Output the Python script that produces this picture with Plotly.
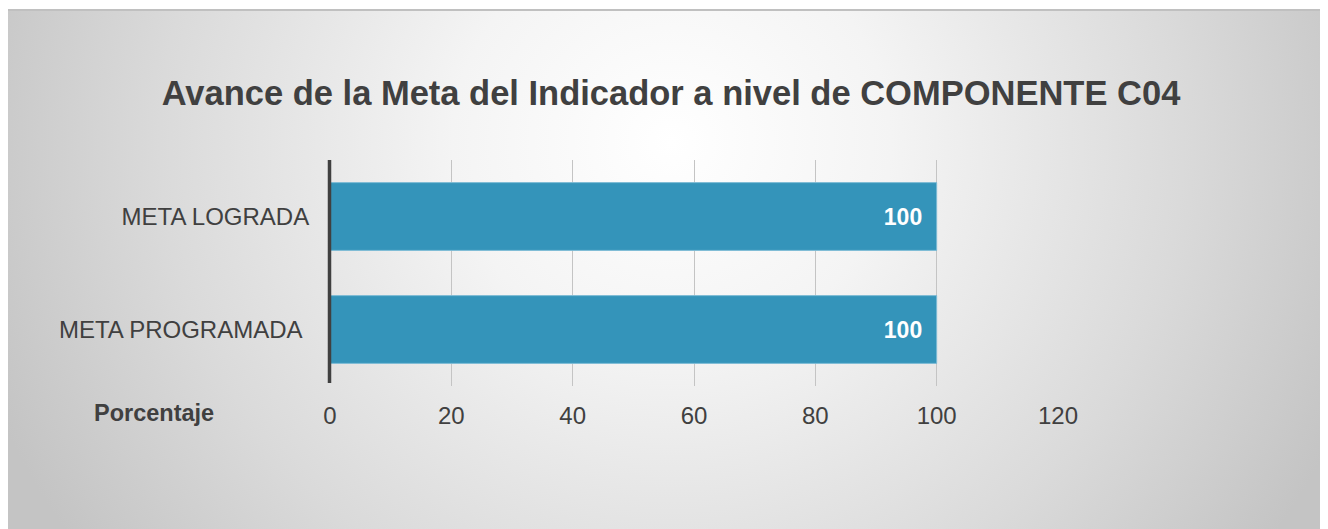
import base64
import plotly.graph_objects as go

categories = ["META PROGRAMADA\u00a0", "META LOGRADA"]
values = [100, 100]
x_ticks = [0, 20, 40, 60, 80, 100, 120]
title_text = "Avance de la Meta del Indicador a nivel de COMPONENTE C04"
axis_label = "Porcentaje"

W, H = 1328, 529
# plot area in figure pixels (page has an 8px body margin)
PL, PR, PT, PB = 322, 1050, 152, 378
PW, PH = PR - PL, PB - PT

svg = f'''<svg xmlns="http://www.w3.org/2000/svg" width="{W}" height="{H}" viewBox="0 0 {W} {H}" preserveAspectRatio="none">
<defs><radialGradient id="g" cx="0.5" cy="0.25" r="0.55" gradientTransform="translate(0.5,0.25) scale(1,2.4) translate(-0.5,-0.25)">
<stop offset="0" stop-color="#ffffff"/>
<stop offset="0.3" stop-color="#f4f4f4"/>
<stop offset="0.7" stop-color="#dadada"/>
<stop offset="1" stop-color="#c4c4c4"/>
</radialGradient></defs>
<rect x="0" y="0" width="{W}" height="{H}" fill="url(#g)"/>
</svg>'''
src = "data:image/svg+xml;base64," + base64.b64encode(svg.encode()).decode()

def px_x(p):
    return (p - PL) / PW

def px_y(p):
    return (PB - p) / PH

fig = go.Figure(go.Bar(
    x=values, y=categories, orientation="h",
    marker=dict(color="#3494ba", line=dict(color="#7fbcd6", width=1)),
    text=[f"{v}\u2002" for v in values], textposition="inside", insidetextanchor="end",
    textfont=dict(family="Liberation Sans, Arial", size=23, color="white", weight="bold"),
    width=0.6,
))

fig.update_layout(
    width=W, height=H,
    margin=dict(l=PL, r=W - PR, t=PT, b=H - PB),
    paper_bgcolor="white", plot_bgcolor="rgba(0,0,0,0)",
    showlegend=False,
    font=dict(family="Liberation Sans, Arial", color="#404040"),
    title=dict(text=title_text, x=663 / W, xanchor="center", y=1 - 85 / H, yanchor="middle",
               font=dict(size=34.5, color="#404040", weight="bold")),
    images=[dict(source=src, xref="paper", yref="paper", x=px_x(-1), y=px_y(2),
                 sizex=(W + 1) / PW, sizey=(H - 2) / PH, sizing="stretch",
                 xanchor="left", yanchor="top", layer="below")],
    shapes=[
        dict(type="line", xref="paper", yref="paper", x0=px_x(-1), x1=px_x(W),
             y0=px_y(2), y1=px_y(2), line=dict(color="#c0c0c0", width=2)),
        dict(type="line", xref="paper", yref="paper", x0=px_x(321.5), x1=px_x(321.5),
             y0=px_y(375), y1=1, line=dict(color="#404040", width=3.5), layer="above"),
    ],
    annotations=[dict(text=axis_label, xref="paper", yref="paper", x=px_x(146), y=px_y(405),
                      xanchor="center", yanchor="middle", showarrow=False,
                      font=dict(size=23.5, color="#404040", weight="bold"))],
)

fig.update_xaxes(range=[0, 120], tickvals=x_ticks, showgrid=True, gridcolor="#c4c4c4", gridwidth=1,
                 zeroline=False, showline=False, ticks="outside", ticklen=8, tickcolor="rgba(0,0,0,0)",
                 tickfont=dict(size=24, color="#404040"), fixedrange=True)
fig.update_yaxes(showgrid=False, showline=False,
                 ticks="outside", ticklen=15, tickcolor="rgba(0,0,0,0)",
                 tickfont=dict(size=24, color="#404040"), range=[-0.5, 1.5])

fig.write_html("out.html")
